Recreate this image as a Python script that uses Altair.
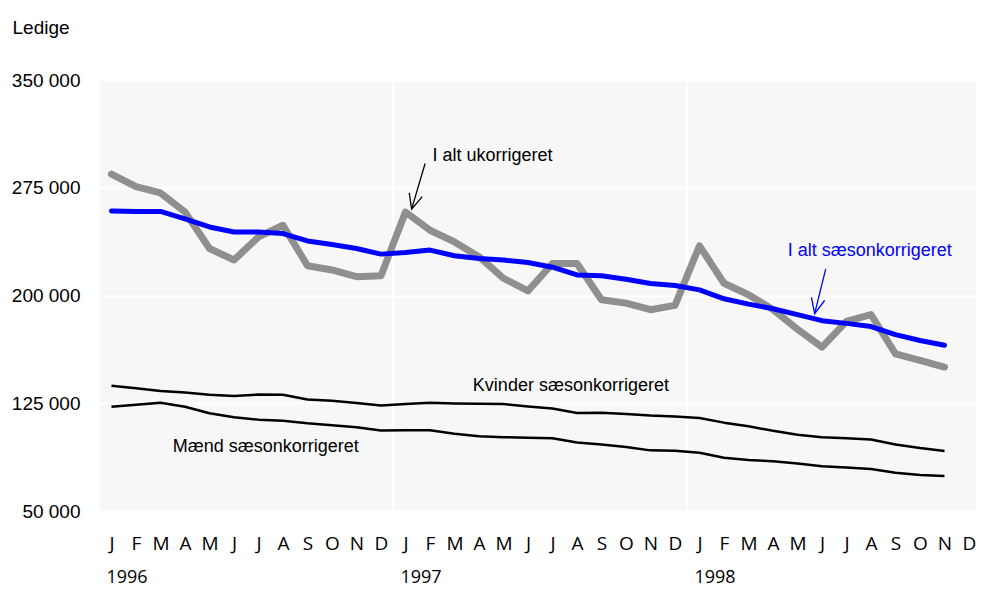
import altair as alt
import pandas as pd

# ---- data ----
MONTH_LETTERS = ["J", "F", "M", "A", "M", "J", "J", "A", "S", "O", "N", "D"]
YEARS = ["1996", "1997", "1998"]
Y_TICKS = [50000, 125000, 200000, 275000, 350000]

i_alt_ukorrigeret = [284500, 275800, 271400, 258100, 232700, 224700, 240800, 248900, 220700, 217800, 213100, 213800,
                     258100, 245400, 237300, 227000, 212000, 203200, 222300, 222300, 197000, 194700, 190100, 193100,
                     234600, 208500, 200500, 190300, 176500, 164100, 182000, 186700, 159400, 154900, 150200]
i_alt_saeson = [258800, 258500, 258500, 253400, 247700, 244200, 244200, 243100, 238000, 235500, 232700, 228800,
                229900, 231600, 227700, 225800, 224700, 223000, 219700, 214300, 213800, 211300, 208300, 206900,
                203900, 197700, 194000, 190800, 186700, 182500, 180600, 178400, 172800, 168700, 165400]
kvinder_saeson = [137100, 135500, 133600, 132500, 130900, 130000, 131100, 130900, 127600, 126700, 125100, 123500,
                  124400, 125300, 124900, 124600, 124400, 122800, 121400, 118200, 118400, 117500, 116400, 115700,
                  114800, 111500, 109000, 105800, 103000, 101400, 100700, 99800, 96300, 93800, 91700]
maend_saeson = [122600, 124000, 125300, 122600, 118000, 115200, 113600, 112900, 111000, 109700, 108300, 106000,
                106200, 106200, 103700, 102100, 101400, 100900, 100700, 97700, 96300, 94500, 92200, 92000,
                90600, 87100, 85500, 84600, 83000, 81100, 80200, 79300, 76700, 75100, 74400]

# annotations (month index, value)
ann_text = ["I alt ukorrigeret", "I alt sæsonkorrigeret", "Kvinder sæsonkorrigeret", "Mænd sæsonkorrigeret"]
ann_x = [13.1, 27.6, 14.75, 2.5]
ann_y = [297400, 231100, 137100, 94200]
ann_color = ["black", "#0000ff", "black", "black"]

arrow_id = ["a1", "a2"]
arrow_tail_x = [12.8, 29.15]
arrow_tail_y = [291900, 218400]
arrow_tip_x = [12.25, 28.7]
arrow_tip_y = [260100, 187400]
arrow_color = ["black", "#0000ff"]
arrow_angle = [196, 193]

year_sep = [11.5, 23.5]

NARROW = "Liberation Sans Narrow, Liberation Sans, Arial, sans-serif"
SANS = "Open Sans, sans-serif"

n = len(i_alt_ukorrigeret)
df = pd.DataFrame({
    "m": list(range(n)),
    "ukorr": i_alt_ukorrigeret,
    "saeson": i_alt_saeson,
    "kvinder": kvinder_saeson,
    "maend": maend_saeson,
})

xscale = alt.Scale(domain=[-0.469, 35.286], nice=False, zero=False)
yscale = alt.Scale(domain=[50000, 350000], nice=False, zero=False)

letters_js = "[" + ",".join("'%s'" % s for s in MONTH_LETTERS) + "]"

x_axis = alt.Axis(values=list(range(36)), labelExpr=letters_js + "[datum.value % 12]",
                  grid=False, ticks=False, domain=False, labelFont=SANS, labelFontSize=19,
                  labelColor="black", labelPadding=23, title=None, labelFlush=False,
                  labelOverlap=False, labelBound=False)
y_axis = alt.Axis(values=Y_TICKS, labelExpr="format(datum.value/1000, 'd') + ' 000'",
                  grid=True, gridColor="white", gridWidth=2, ticks=False, domain=False,
                  labelFont=NARROW, labelFontSize=19, labelColor="black", labelPadding=20,
                  labelOverlap=False,
                  title="Ledige", titleAngle=0, titleX=-88, titleY=-53, titleAlign="left",
                  titleBaseline="middle", titleFont=NARROW, titleFontSize=19,
                  titleFontWeight="normal", titleColor="black")

base = alt.Chart(df)

gray = base.mark_line(color="#8f8f8f", strokeWidth=7, strokeCap="round", strokeJoin="round").encode(
    x=alt.X("m:Q", scale=xscale, axis=x_axis),
    y=alt.Y("ukorr:Q", scale=yscale, axis=y_axis),
)
blue = base.mark_line(color="#0000ff", strokeWidth=5, strokeCap="round", strokeJoin="round").encode(
    x=alt.X("m:Q", scale=xscale, axis=x_axis), y=alt.Y("saeson:Q", scale=yscale, axis=y_axis))
kv = base.mark_line(color="black", strokeWidth=2.5, strokeJoin="round").encode(
    x=alt.X("m:Q", scale=xscale, axis=x_axis), y=alt.Y("kvinder:Q", scale=yscale, axis=y_axis))
ma = base.mark_line(color="black", strokeWidth=2.5, strokeJoin="round").encode(
    x=alt.X("m:Q", scale=xscale, axis=x_axis), y=alt.Y("maend:Q", scale=yscale, axis=y_axis))

seps = alt.Chart(pd.DataFrame({"x": year_sep})).mark_rule(color="white", strokeWidth=2).encode(
    x=alt.X("x:Q", scale=xscale, axis=x_axis))

ann_df = pd.DataFrame({"t": ann_text, "x": ann_x, "y": ann_y, "c": ann_color})
ann = alt.Chart(ann_df).mark_text(align="left", baseline="middle", font=NARROW, fontSize=18).encode(
    x=alt.X("x:Q", scale=xscale, axis=x_axis), y=alt.Y("y:Q", scale=yscale, axis=y_axis), text="t:N",
    color=alt.Color("c:N", scale=None))

arr_df = pd.DataFrame({"id": arrow_id, "x": arrow_tail_x, "y": arrow_tail_y,
                       "x2": arrow_tip_x, "y2": arrow_tip_y, "c": arrow_color, "a": arrow_angle})
shafts = alt.Chart(arr_df).mark_rule(strokeWidth=1.3).encode(
    x=alt.X("x:Q", scale=xscale, axis=x_axis), y=alt.Y("y:Q", scale=yscale, axis=y_axis),
    x2="x2:Q", y2="y2:Q", color=alt.Color("c:N", scale=None))
heads = alt.Chart(arr_df).mark_point(shape="M -0.45 1 L 0 0 L 0.45 1", size=900, filled=False,
                                     strokeWidth=1.3, opacity=1).encode(
    x=alt.X("x2:Q", scale=xscale, axis=x_axis), y=alt.Y("y2:Q", scale=yscale, axis=y_axis),
    color=alt.Color("c:N", scale=None), angle=alt.Angle("a:Q", scale=None))

yr_df = pd.DataFrame({"t": YEARS, "x": [0, 12, 24]})
years = alt.Chart(yr_df).mark_text(align="left", baseline="middle", font=SANS, fontSize=18,
                                   dx=-5, color="black").encode(
    x=alt.X("x:Q", scale=xscale, axis=x_axis), y=alt.value(498), text="t:N")

chart = alt.layer(seps, gray, blue, kv, ma, ann, shafts, heads, years).properties(
    width=876, height=431,
    background="white",
    autosize=alt.AutoSizeParams(type="none"),
    padding={"left": 92, "top": 72, "right": 0, "bottom": 82},
).configure_view(fill="#f7f7f7", strokeWidth=0).configure_axis(labelOverlap=False)

chart.save("out.html", embed_options={"renderer": "svg", "actions": False})
